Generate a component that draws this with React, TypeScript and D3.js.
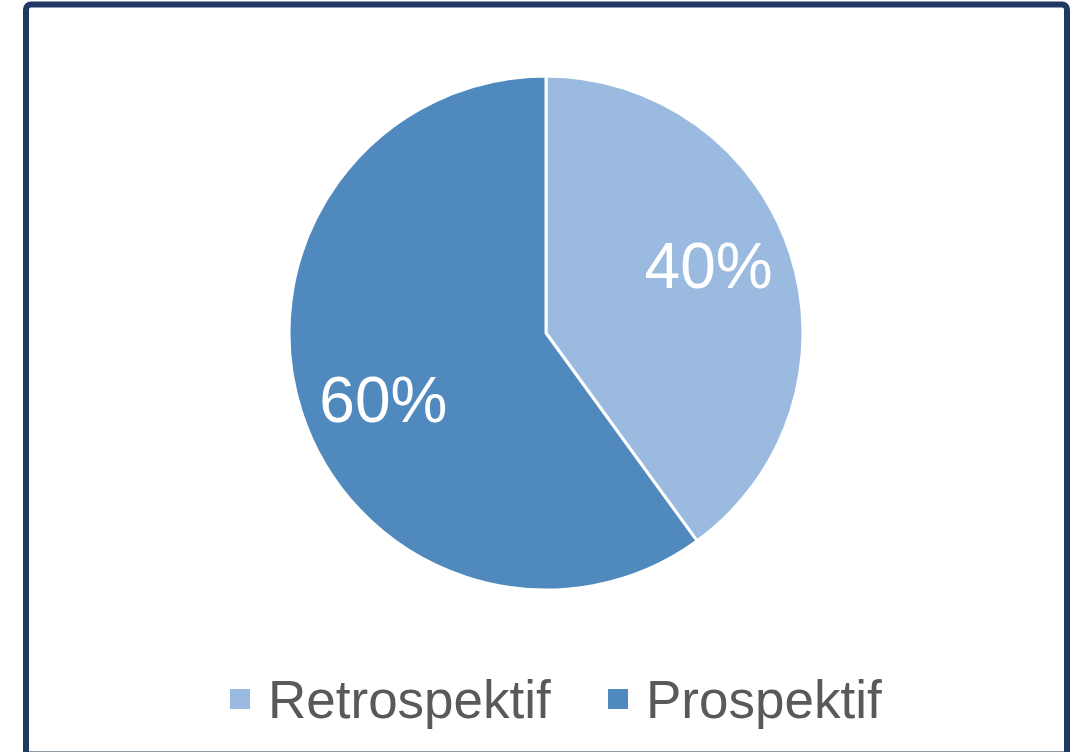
import React from "react";
import * as d3 from "d3";

const categories = ["Retrospektif", "Prospektif"];
const values = [40, 60];
const colors = ["#9BBADF", "#4F89BD"];

const W = 1079;
const H = 752;
const cx = 546;
const cy = 333;
const radius = 257;

export default function App() {
    const pie = d3
        .pie<number>()
        .sort(null)
        .startAngle(0)
        .endAngle(2 * Math.PI);
    const arcs = pie(values);
    const arc = d3.arc<d3.PieArcDatum<number>>().innerRadius(0).outerRadius(radius);
    const total = d3.sum(values);

    // label spot: a bit before the slice middle, like the original
    const labelPos = (a: d3.PieArcDatum<number>) => {
        const ang = (a.startAngle + a.endAngle) / 2 - (4.5 * Math.PI) / 180;
        const r = 176;
        return [r * Math.sin(ang), -r * Math.cos(ang)];
    };

    const legendX = [230, 608];
    const legendY = 718;

    return (
        <svg
            width={W}
            height={H}
            style={{ position: "fixed", left: 0, top: 0, background: "#fff" }}
            fontFamily="'Liberation Sans', Arial, sans-serif"
        >
            {/* outer frame, bottom edge falls outside the picture */}
            <rect x={26} y={4.5} width={1041} height={770} rx={5} fill="#fff" stroke="#1F3864" strokeWidth={6} />
            <line x1={29} x2={1064} y1={751.5} y2={751.5} stroke="#8C97A4" strokeWidth={1} />

            <g transform={`translate(${cx},${cy})`}>
                {arcs.map((a, i) => (
                    <path key={i} d={arc(a) || ""} fill={colors[i]} stroke="#fff" strokeWidth={3} strokeLinejoin="round" />
                ))}
                {arcs.map((a, i) => {
                    const [x, y] = labelPos(a);
                    return (
                        <text
                            key={"l" + i}
                            x={x}
                            y={y}
                            textAnchor="middle"
                            dominantBaseline="central"
                            fill="#fff"
                            fontSize={64}
                        >
                            {Math.round((values[i] / total) * 100) + "%"}
                        </text>
                    );
                })}
            </g>

            {categories.map((c, i) => (
                <g key={c}>
                    <rect x={legendX[i]} y={689} width={20} height={20} fill={colors[i]} />
                    <text x={legendX[i] + 38} y={legendY} fontSize={53} fill="#595959">
                        {c}
                    </text>
                </g>
            ))}
        </svg>
    );
}
